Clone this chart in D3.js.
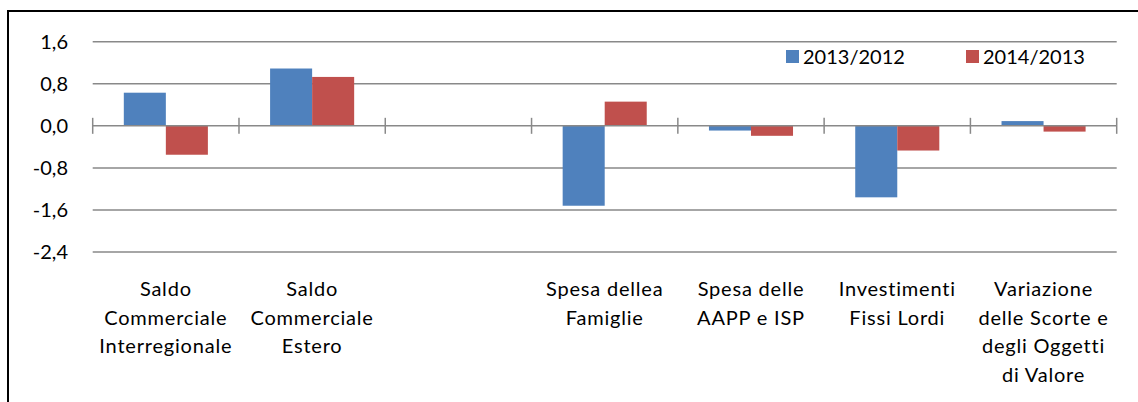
<!DOCTYPE html>
<html>
<head>
<meta charset="utf-8">
<script src="https://cdn.jsdelivr.net/npm/d3@7"></script>
<style>
  body { margin: 0; background: #fff; }
  svg text { font-family: Lato, "Open Sans", sans-serif; fill: #000; }
</style>
</head>
<body>
<div id="chart"></div>
<script>
// data
const categories = [
    ["Saldo", "Commerciale", "Interregionale"],
    ["Saldo", "Commerciale", "Estero"],
    [],
    ["Spesa dellea", "Famiglie"],
    ["Spesa delle", "AAPP e ISP"],
    ["Investimenti", "Fissi Lordi"],
    ["Variazione", "delle Scorte e", "degli Oggetti", "di Valore"]
];
const seriesNames = ["2013/2012", "2014/2013"];
const values2013 = [0.63, 1.09, null, -1.52, -0.09, -1.36, 0.09];
const values2014 = [-0.55, 0.93, null, 0.46, -0.19, -0.47, -0.11];
const yTicks = [1.6, 0.8, 0.0, -0.8, -1.6, -2.4];
const colors = ["#4F81BD", "#C0504D"];

const width = 1138, height = 402;
const plot = { left: 92.7, right: 1116.7, top: 41.7, bottom: 252 };

const svg = d3.select("#chart")
    .append("svg")
    .attr("width", width)
    .attr("height", height);

// outer frame (right and bottom edges fall outside the picture)
svg.append("rect")
    .attr("x", 8).attr("y", 11)
    .attr("width", width + 20).attr("height", height + 20)
    .attr("fill", "none")
    .attr("stroke", "#000")
    .attr("stroke-width", 2);

const idx = d3.range(categories.length);

const x = d3.scaleBand()
    .domain(idx)
    .range([plot.left, plot.right])
    .padding(0);

const xInner = d3.scaleBand()
    .domain(d3.range(seriesNames.length))
    .range([0, x.bandwidth()])
    .paddingInner(0)
    .paddingOuter(0.74);

const y = d3.scaleLinear()
    .domain([-2.4, 1.6])
    .range([plot.bottom, plot.top]);

const fmt = v => d3.format(".1f")(v).replace(".", ",").replace("−", "-");

// gridlines
svg.append("g")
    .selectAll("line")
    .data(yTicks.filter(t => t !== 0))
    .enter().append("line")
    .attr("x1", plot.left)
    .attr("x2", plot.right)
    .attr("y1", d => y(d))
    .attr("y2", d => y(d))
    .attr("stroke", "#898989")
    .attr("stroke-width", 1.5);

// y labels
svg.append("g")
    .selectAll("text")
    .data(yTicks)
    .enter().append("text")
    .attr("x", 68)
    .attr("y", d => y(d))
    .attr("dy", "0.35em")
    .attr("text-anchor", "end")
    .style("font-size", "20px")
    .text(fmt);

// bars
const series = [values2013, values2014];
series.forEach((vals, s) => {
    svg.append("g")
        .selectAll("rect")
        .data(idx.filter(i => vals[i] != null))
        .enter().append("rect")
        .attr("x", i => x(i) + xInner(s))
        .attr("width", xInner.bandwidth())
        .attr("y", i => y(Math.max(0, vals[i])))
        .attr("height", i => Math.abs(y(vals[i]) - y(0)))
        .attr("fill", colors[s]);
});

// category axis on zero line with cross ticks
const axisG = svg.append("g");
axisG.append("line")
    .attr("x1", plot.left).attr("x2", plot.right)
    .attr("y1", y(0)).attr("y2", y(0))
    .attr("stroke", "#898989")
    .attr("stroke-width", 1.5);
axisG.selectAll(".tick")
    .data(d3.range(categories.length + 1))
    .enter().append("line")
    .attr("class", "tick")
    .attr("x1", i => plot.left + i * x.step())
    .attr("x2", i => plot.left + i * x.step())
    .attr("y1", y(0) - 8)
    .attr("y2", y(0) + 8)
    .attr("stroke", "#898989")
    .attr("stroke-width", 1.5);

// category labels
const labels = svg.append("g")
    .selectAll("text")
    .data(idx)
    .enter().append("text")
    .attr("x", i => x(i) + x.bandwidth() / 2)
    .attr("y", 296)
    .attr("text-anchor", "middle")
    .style("font-size", "20px")
    .style("letter-spacing", "0.8px");
labels.selectAll("tspan")
    .data(i => categories[i].map(l => ({ l, x: x(i) + x.bandwidth() / 2 })))
    .enter().append("tspan")
    .attr("x", d => d.x)
    .attr("dy", (d, j) => j === 0 ? 0 : 28.5)
    .text(d => d.l);

// legend
const legendX = [786, 966];
const legend = svg.append("g");
seriesNames.forEach((name, s) => {
    legend.append("rect")
        .attr("x", legendX[s]).attr("y", 50)
        .attr("width", 13).attr("height", 13)
        .attr("fill", colors[s]);
    legend.append("text")
        .attr("x", legendX[s] + 17)
        .attr("y", 63.5)
        .style("font-size", "20px")
        .text(name);
});
</script>
</body>
</html>
